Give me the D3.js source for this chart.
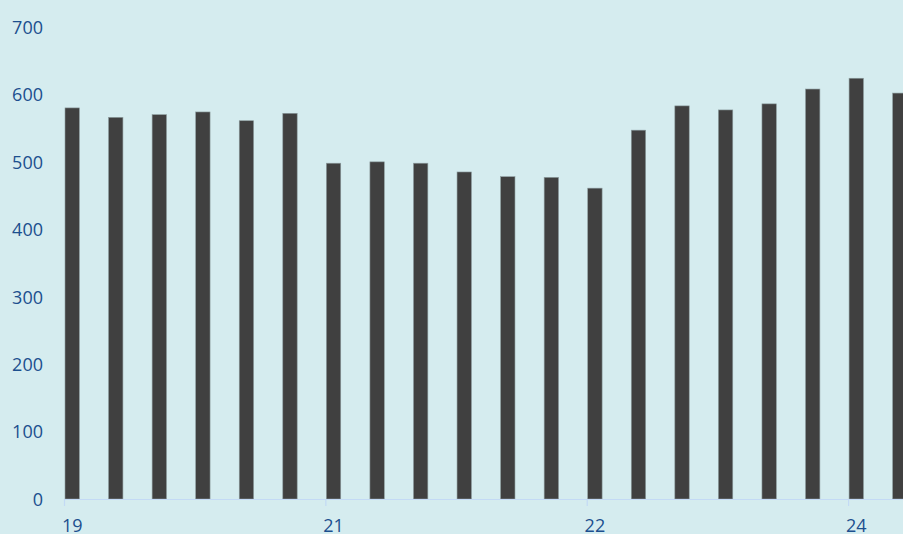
<!DOCTYPE html>
<html>
<head>
<meta charset="utf-8">
<script src="https://cdn.jsdelivr.net/npm/d3@7"></script>
<style>
  html, body { margin: 0; padding: 0; background: #d5ecef; overflow: hidden; }
  svg { display: block; }
</style>
</head>
<body>
<svg id="chart" width="903" height="534"></svg>
<script>
// Period-by-period values (one bar per period)
const periods = ["p0","p1","p2","p3","p4","p5","p6","p7","p8","p9",
                 "p10","p11","p12","p13","p14","p15","p16","p17","p18","p19"];
const values = [580, 566, 570, 574, 561, 572, 498, 500, 498, 485,
                478, 477, 461, 547, 583, 577, 586, 608, 624, 602];

// Year labels shown under selected periods
const yearTickIndex = [0, 6, 12, 18];
const yearTickLabels = ["19", "21", "22", "24"];

// Value axis ticks
const yTicks = [0, 100, 200, 300, 400, 500, 600, 700];

const W = 903, H = 534;
const left = 64, baseY = 499, topY = 27;
const step = 43.56;

const svg = d3.select("#chart");
svg.append("rect").attr("width", W).attr("height", H).attr("fill", "#d5ecef");

const x = d3.scaleBand()
  .domain(periods)
  .range([left, left + step * periods.length])
  .paddingInner(0).paddingOuter(0);

const y = d3.scaleLinear().domain([0, 700]).range([baseY, topY]);

const barW = x.bandwidth() * 0.33;
const barOffset = 1;

// Bars
svg.append("g")
  .selectAll("rect")
  .data(values)
  .join("rect")
  .attr("x", (d, i) => x(periods[i]) + barOffset)
  .attr("y", d => y(d))
  .attr("width", barW)
  .attr("height", d => y(0) - y(d))
  .attr("fill", "#404040")
  .attr("stroke", "#8c9c9e")
  .attr("stroke-width", 0.6);

// Value axis labels
const yAxis = d3.axisLeft(y).tickValues(yTicks).tickSize(0).tickPadding(0);
const gy = svg.append("g")
  .attr("transform", `translate(43,0)`)
  .call(yAxis);
gy.select(".domain").remove();
gy.selectAll("text")
  .attr("fill", "#1c4f8e")
  .attr("font-family", "'Open Sans', 'Noto Sans', sans-serif")
  .attr("font-size", 18)
  .attr("dy", "0.35em");

// Category axis line
svg.append("line")
  .attr("x1", left).attr("x2", W)
  .attr("y1", baseY + 0.5).attr("y2", baseY + 0.5)
  .attr("stroke", "#c3daf5").attr("stroke-width", 1.2);

// Year tick marks at the start of the labelled periods
svg.append("g")
  .selectAll("line")
  .data(yearTickIndex)
  .join("line")
  .attr("x1", i => x(periods[i]) + 0.5)
  .attr("x2", i => x(periods[i]) + 0.5)
  .attr("y1", baseY)
  .attr("y2", baseY + 7)
  .attr("stroke", "#c3daf5").attr("stroke-width", 1.2);

// Year labels centred under their bars
svg.append("g")
  .selectAll("text")
  .data(yearTickIndex)
  .join("text")
  .attr("x", i => x(periods[i]) + barOffset + barW / 2)
  .attr("y", 532)
  .attr("text-anchor", "middle")
  .attr("fill", "#1c4f8e")
  .attr("font-family", "'Open Sans', 'Noto Sans', sans-serif")
  .attr("font-size", 18)
  .text((d, k) => yearTickLabels[k]);
</script>
</body>
</html>
